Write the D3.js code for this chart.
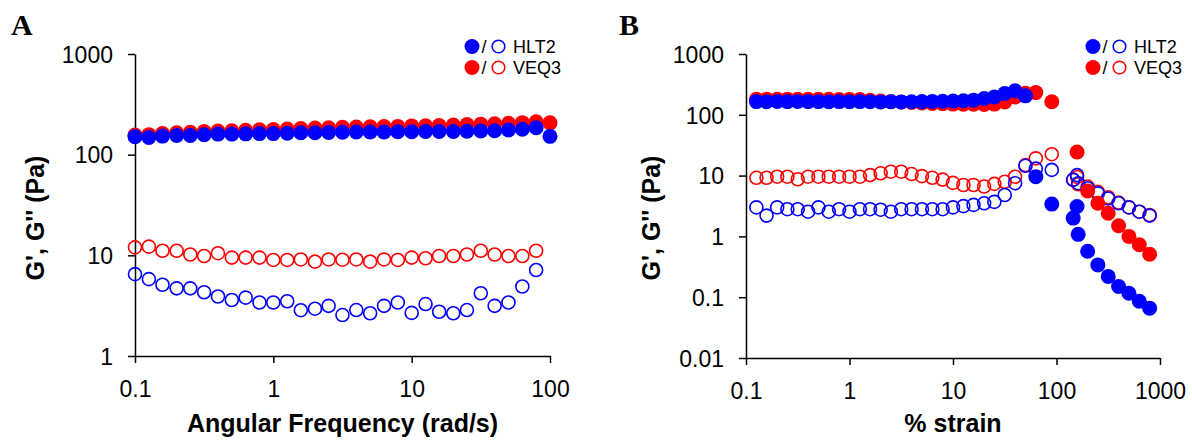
<!DOCTYPE html>
<html>
<head>
<meta charset="utf-8">
<script src="https://cdn.jsdelivr.net/npm/d3@7"></script>
<style>
  body { margin: 0; background: #fff; }
  svg { display: block; font-family: "Liberation Sans", Arial, sans-serif; }
  .axis path, .axis line { stroke: #000; stroke-width: 1.5; }
  .axis text { font-size: 23px; fill: #000; font-family: "Liberation Sans", Arial, sans-serif; }
  .axis-title { font-size: 25px; font-weight: bold; }
  .panel-label { font-family: "Liberation Serif", "Times New Roman", serif; font-weight: bold; font-size: 30px; }
  .legend text { font-size: 18px; }
</style>
</head>
<body>
<div id="chart"></div>
<script>
// Panel A: frequency sweep (rad/s)
const freqA = [0.1, 0.126, 0.158, 0.2, 0.251, 0.316, 0.398, 0.501, 0.631, 0.794,
  1, 1.26, 1.58, 2, 2.51, 3.16, 3.98, 5.01, 6.31, 7.94,
  10, 12.6, 15.8, 20, 25.1, 31.6, 39.8, 50.1, 63.1, 79.4, 100];
const hltStorageA = [151, 148, 153, 155, 155, 158, 160, 160, 161, 162,
  162, 163, 165, 165, 166, 167, 168, 168, 168, 169,
  169, 170, 170, 170, 171, 172, 173, 176, 179, 185, 152];
const veqStorageA = [157, 158, 162, 165, 167, 170, 172, 173, 175, 177,
  178, 180, 182, 184, 185, 187, 188, 189, 190, 191,
  193, 194, 195, 197, 199, 201, 203, 205, 208, 212, 207];
const hltLossA = [6.5, 5.8, 5.1, 4.7, 4.7, 4.3, 3.9, 3.6, 3.8, 3.4,
  3.4, 3.5, 2.85, 2.95, 3.15, 2.55, 2.86, 2.66, 3.15, 3.4,
  2.68, 3.28, 2.75, 2.66, 2.86, 4.2, 3.15, 3.4, 4.9, 7.15];
const veqLossA = [12.0, 12.2, 11.1, 11.1, 10.2, 9.85, 10.5, 9.5, 9.5, 9.5,
  9.0, 9.0, 9.1, 8.65, 9.1, 9.05, 9.1, 8.65, 9.1, 9.0,
  9.5, 9.35, 9.85, 9.85, 10.2, 11.1, 10.2, 9.85, 9.85, 11.1];

// Panel B: strain sweep (% strain)
const strainB = [0.126, 0.158, 0.2, 0.251, 0.316, 0.398, 0.501, 0.631, 0.794, 1,
  1.26, 1.58, 2, 2.51, 3.16, 3.98, 5.01, 6.31, 7.94, 10,
  12.6, 15.8, 20, 25.1, 31.6, 39.8, 50.1, 63.1, 90,
  200, 251, 316, 398, 501, 631, 794];
const hltStorageB = [165, 164, 166, 165, 166, 165, 165, 164, 165, 164,
  165, 164, 163, 164, 163, 164, 165, 166, 167, 168,
  170, 174, 185, 196, 224, 248, 205, 9.6, 3.4,
  0.57, 0.34, 0.22, 0.15, 0.116, 0.086, 0.066];
const veqStorageB = [180, 181, 180, 181, 180, 181, 180, 180, 179, 179,
  178, 173, 168, 165, 162, 160, 157, 154, 152, 150,
  149, 149, 148, 150, 163, 196, 226, 232, 164,
  5.6, 3.5, 2.4, 1.5, 1.0, 0.73, 0.51];
const hltLossB = [3.0, 2.2, 3.0, 2.8, 2.8, 2.55, 3.0, 2.55, 2.8, 2.55,
  2.8, 2.8, 2.75, 2.55, 2.8, 2.8, 2.8, 2.8, 2.8, 3.0,
  3.15, 3.3, 3.5, 3.7, 4.8, 7.5, 14.5, 13.0, 12.4,
  6.2, 5.1, 4.2, 3.5, 3.0, 2.55, 2.2];
const veqLossB = [9.2, 9.2, 9.6, 9.6, 8.7, 9.6, 9.6, 9.6, 9.6, 9.6,
  9.6, 10.2, 10.9, 11.6, 11.6, 10.6, 9.8, 9.2, 8.6, 7.6,
  7.0, 7.0, 6.6, 7.3, 7.9, 9.6, 14.9, 19.2, 22.5,
  6.6, 5.4, 4.4, 3.6, 3.0, 2.55, 2.25];
// extra points around 150 % strain
const clusterStrainB = [145, 158, 162];
const hltStorageC = [2.0, 3.1, 1.08];
const veqStorageC = [null, 24.5, null];
const hltLossC = [8.5, 10.2, 7.5];
const veqLossC = [8.6, 9.5, 7.2];

const ticksA_x = [0.1, 1, 10, 100];
const ticksA_y = [1, 10, 100, 1000];
const ticksB_x = [0.1, 1, 10, 100, 1000];
const ticksB_y = [0.01, 0.1, 1, 10, 100, 1000];

const legendNames = ["HLT2", "VEQ3"];
const blue = "#0000ff";
const red = "#ff0000";

const width = 1192;
const height = 442;

const svg = d3.select("#chart").append("svg")
    .attr("width", width)
    .attr("height", height);

function pairs(xs, ys) {
    return xs.map((x, i) => ({ x: x, y: ys[i] })).filter(d => d.y != null);
}

function drawPanel(p) {
    const x = d3.scaleLog().domain(p.xDomain).range([p.left, p.right]);
    const y = d3.scaleLog().domain(p.yDomain).range([p.bottom, p.top]);
    const fmt = d => String(d);

    svg.append("g")
        .attr("class", "axis")
        .attr("transform", `translate(0,${p.bottom})`)
        .call(d3.axisBottom(x).tickValues(p.xTicks).tickFormat(fmt)
            .tickSize(7).tickSizeOuter(0).tickPadding(18));

    svg.append("g")
        .attr("class", "axis")
        .attr("transform", `translate(${p.left},0)`)
        .call(d3.axisLeft(y).tickValues(p.yTicks).tickFormat(fmt)
            .tickSize(7).tickSizeOuter(0).tickPadding(15))
        .selectAll("text").attr("dy", "0.36em");

    svg.selectAll(".axis .domain").attr("fill", "none");

    // axis titles
    svg.append("text")
        .attr("class", "axis-title")
        .attr("x", (p.left + p.right) / 2)
        .attr("y", 432)
        .attr("text-anchor", "middle")
        .text(p.xTitle);

    svg.append("text")
        .attr("class", "axis-title")
        .attr("transform", `translate(${p.yTitleX},218) rotate(-90)`)
        .attr("text-anchor", "middle")
        .text("G', G'' (Pa)");

    svg.append("text")
        .attr("class", "panel-label")
        .attr("x", p.labelX)
        .attr("y", 35)
        .text(p.label);

    // markers: losses (open) then storage (filled), red under blue
    const g = svg.append("g");
    p.series.forEach(s => {
        g.selectAll(null)
            .data(s.points)
            .enter()
            .append("circle")
            .attr("cx", d => x(d.x))
            .attr("cy", d => y(d.y))
            .attr("r", s.filled ? 7.5 : 6.5)
            .attr("fill", s.filled ? s.color : "none")
            .attr("stroke", s.filled ? "none" : s.color)
            .attr("stroke-width", 1.6);
    });

    // legend
    const lg = svg.append("g").attr("class", "legend");
    [blue, red].forEach((c, i) => {
        const cy = 46.5 + i * 21;
        lg.append("circle").attr("cx", p.legendX).attr("cy", cy).attr("r", 7.5).attr("fill", c);
        lg.append("text").attr("x", p.legendX + 9.5).attr("y", cy + 6.5).text("/");
        lg.append("circle").attr("cx", p.legendX + 26.5).attr("cy", cy).attr("r", 6.3)
            .attr("fill", "none").attr("stroke", c).attr("stroke-width", 1.6);
        lg.append("text").attr("x", p.legendX + 41).attr("y", cy + 6.5).text(legendNames[i]);
    });
}

drawPanel({
    label: "A", labelX: 11,
    left: 135, right: 550, top: 54, bottom: 356,
    xDomain: [0.1, 100], yDomain: [1, 1000],
    xTicks: ticksA_x, yTicks: ticksA_y,
    xTitle: "Angular Frequency (rad/s)", yTitleX: 44,
    legendX: 472,
    series: [
        { color: red, filled: false, points: pairs(freqA, veqLossA) },
        { color: blue, filled: false, points: pairs(freqA, hltLossA) },
        { color: red, filled: true, points: pairs(freqA, veqStorageA) },
        { color: blue, filled: true, points: pairs(freqA, hltStorageA) }
    ]
});

drawPanel({
    label: "B", labelX: 619,
    left: 746, right: 1160, top: 54, bottom: 358,
    xDomain: [0.1, 1000], yDomain: [0.01, 1000],
    xTicks: ticksB_x, yTicks: ticksB_y,
    xTitle: "% strain", yTitleX: 660,
    legendX: 1093,
    series: [
        { color: red, filled: false, points: pairs(strainB, veqLossB).concat(pairs(clusterStrainB, veqLossC)) },
        { color: blue, filled: false, points: pairs(strainB, hltLossB).concat(pairs(clusterStrainB, hltLossC)) },
        { color: red, filled: true, points: pairs(strainB, veqStorageB).concat(pairs(clusterStrainB, veqStorageC)) },
        { color: blue, filled: true, points: pairs(strainB, hltStorageB).concat(pairs(clusterStrainB, hltStorageC)) }
    ]
});
</script>
</body>
</html>
